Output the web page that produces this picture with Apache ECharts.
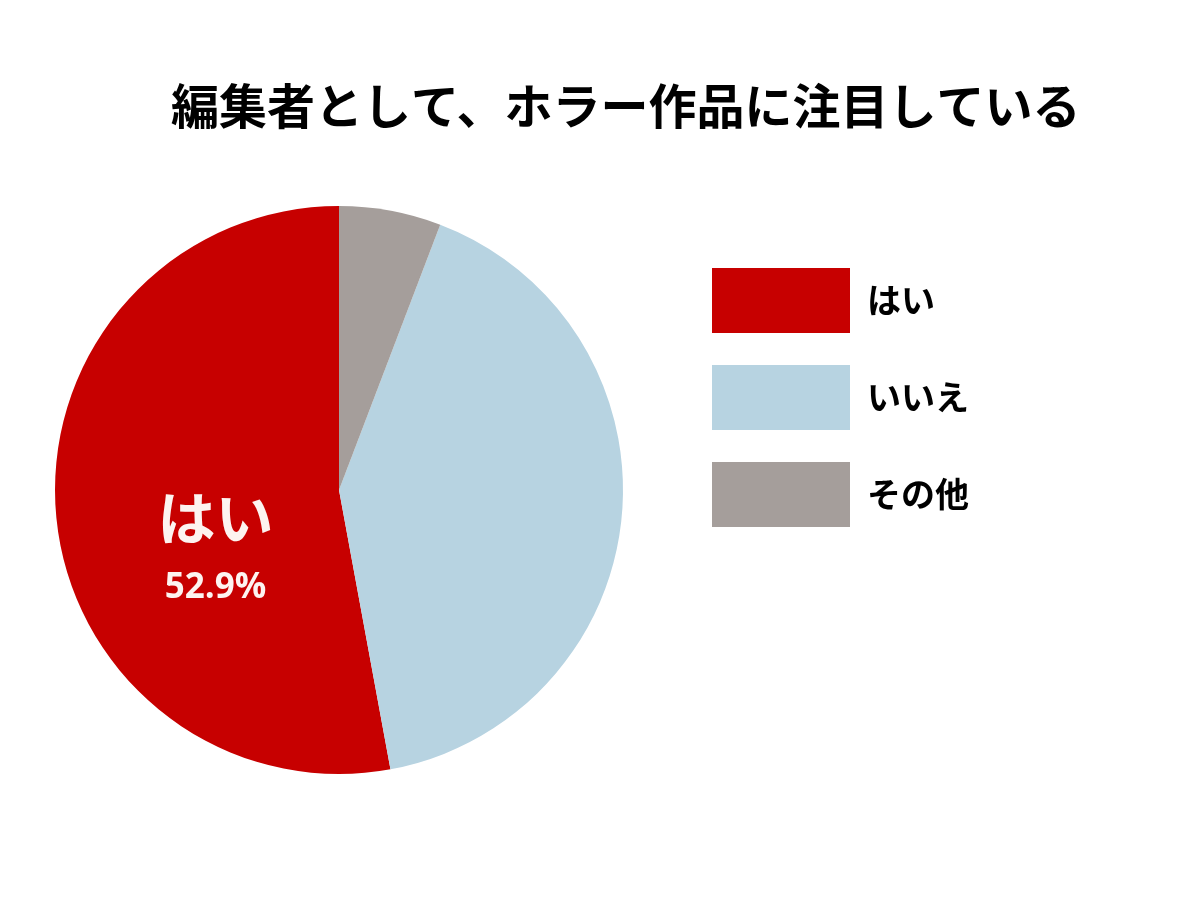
<!DOCTYPE html>
<html>
<head>
<meta charset="utf-8">
<script src="https://cdn.jsdelivr.net/npm/echarts@6/dist/echarts.min.js"></script>
<style>
  html, body { margin: 0; padding: 0; background: #fff; }
  #pieChart { width: 1201px; height: 901px; }
</style>
</head>
<body>
<div id="pieChart"></div>
<script>
// 凡例・データ
const categories = ["はい", "いいえ", "その他"];
const values = [52.9, 41.3, 5.8];
const colors = ["#c70000", "#b7d3e1", "#a59e9b"];

const jpFont = '"Noto Sans CJK JP", "Noto Sans", sans-serif';

let seriesData = [];
for (let i = 0; i < categories.length; i++) {
  seriesData.push({
    name: categories[i],
    value: values[i],
    itemStyle: { color: colors[i] },
    label: { show: i === 0 } // はい だけラベル表示
  });
}

let option = {
  animation: false,
  title: {
    text: "編集者として、ホラー作品に注目している",
    left: 166,
    top: 77,
    textStyle: {
      fontFamily: jpFont,
      fontSize: 48,
      fontWeight: "bold",
      color: "#000"
    }
  },
  legend: {
    orient: "vertical",
    left: 707,
    top: 263,
    icon: "rect",
    itemWidth: 138,
    itemHeight: 65,
    itemGap: 32,
    data: categories,
    selectedMode: false,
    textStyle: {
      fontFamily: jpFont,
      fontSize: 34,
      fontWeight: "bold",
      color: "#000",
      padding: [0, 0, 0, 12]
    }
  },
  series: [
    {
      type: "pie",
      center: [339, 490],
      radius: 284,
      startAngle: 90,
      clockwise: false,
      silent: true,
      itemStyle: { borderWidth: 0 },
      emphasis: { disabled: true },
      label: {
        position: "inside",
        formatter: function (p) {
          return "{a|" + p.name + "}\n{b|" + p.value.toFixed(1) + "%}";
        },
        rich: {
          a: {
            fontFamily: jpFont,
            fontSize: 58,
            fontWeight: "bold",
            color: "#fdf3f0",
            lineHeight: 90
          },
          b: {
            fontFamily: '"Open Sans", "Noto Sans", sans-serif',
            fontSize: 35,
            fontWeight: "bold",
            color: "#fdf3f0",
            lineHeight: 50
          }
        }
      },
      labelLayout: { dx: 21, dy: 40 },
      labelLine: { show: false },
      data: seriesData
    }
  ]
};

let pieChart = echarts.init(document.getElementById("pieChart"));
pieChart.setOption(option);
</script>
</body>
</html>
